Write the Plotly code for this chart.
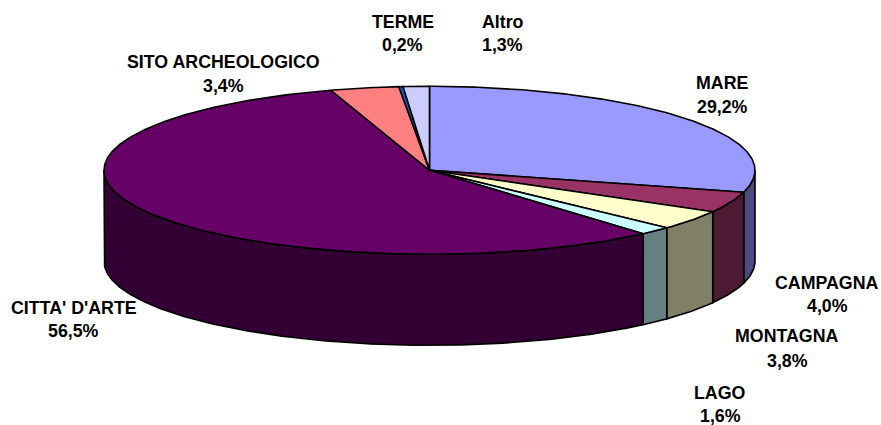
import numpy as np
import plotly.graph_objects as go

categories = ["MARE", "CAMPAGNA", "MONTAGNA", "LAGO", "CITTA' D'ARTE",
              "SITO ARCHEOLOGICO", "TERME", "Altro"]
values = [29.2, 4.0, 3.8, 1.6, 56.5, 3.4, 0.2, 1.3]
top_colors = ["#9999FF", "#993366", "#FFFFCC", "#CCFFFF", "#660066",
              "#FF8080", "#0066CC", "#CCCCFF"]
side_colors = ["#4C4C80", "#4D1A33", "#808066", "#668080", "#330033",
               "#804040", "#003366", "#666680"]
label_x = [722, 827, 787, 720, 73.5, 223.5, 402.5, 502.5]
label_y_name = [83, 283, 336, 393, 308, 62, 22, 22]
label_y_pct = [107, 306, 361, 416, 331, 86, 45, 45]

W, H = 881, 425
CX, CY, RX, RY, DEPTH = 429.5, 170.3, 325.5, 84.0, 91.0
LINE = 1.6


def rim(a, b, dy=0.0):
    """Elliptical rim between clockwise-from-top angles a and b (degrees)."""
    n = max(2, int(abs(b - a) * 2) + 1)
    t = np.radians(np.linspace(a, b, n))
    return CX + RX * np.sin(t), CY - RY * np.cos(t) + dy


fig = go.Figure()


def polygon(x, y, color, name):
    fig.add_trace(go.Scatter(
        x=np.append(x, x[0]), y=np.append(y, y[0]), mode="lines", fill="toself",
        fillcolor=color, line=dict(color="black", width=LINE),
        name=name, hoverinfo="name", showlegend=False))


edges = np.concatenate([[0], np.cumsum(values)]) * 3.6

# Front walls: only the part of each slice facing the viewer
for i, name in enumerate(categories):
    a, b = max(edges[i], 90), min(edges[i + 1], 270)
    if b <= a:
        continue
    x1, y1 = rim(a, b)
    x2, y2 = rim(b, a, DEPTH)
    polygon(np.concatenate([x1, x2]), np.concatenate([y1, y2]), side_colors[i], name)

# Top faces
for i, name in enumerate(categories):
    x, y = rim(edges[i], edges[i + 1])
    polygon(np.concatenate([[CX], x]), np.concatenate([[CY], y]), top_colors[i], name)

font = dict(family="Liberation Sans, Arial, sans-serif", size=17.8, color="#000000")
annotations = []
for i, name in enumerate(categories):
    pct = f"{values[i]:.1f}%".replace(".", ",")
    annotations.append(dict(x=label_x[i], y=label_y_name[i], text=f"<b>{name}</b>",
                            showarrow=False, font=font, xanchor="center", yanchor="middle"))
    annotations.append(dict(x=label_x[i], y=label_y_pct[i], text=f"<b>{pct}</b>",
                            showarrow=False, font=font, xanchor="center", yanchor="middle"))

fig.update_layout(
    width=W, height=H, margin=dict(l=0, r=0, t=0, b=0),
    paper_bgcolor="white", plot_bgcolor="white", showlegend=False,
    xaxis=dict(range=[0, W], visible=False, fixedrange=True),
    yaxis=dict(range=[H, 0], visible=False, fixedrange=True),
    annotations=annotations,
)
fig.write_html(
    "out.html",
    config=dict(displayModeBar=False),
    post_script="document.body.style.margin='0';"
                "document.body.style.overflow='hidden';"
                "document.documentElement.style.overflow='hidden';",
)
